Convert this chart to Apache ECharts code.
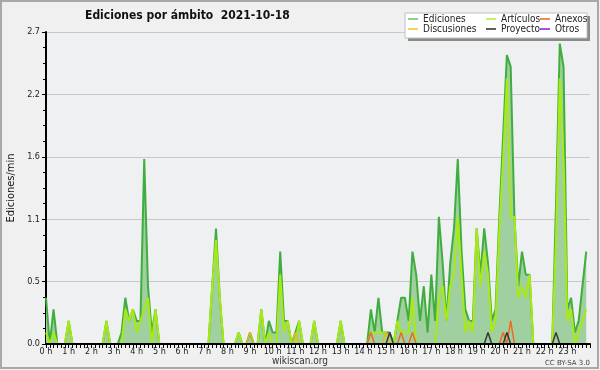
<!DOCTYPE html>
<html><head><meta charset="utf-8">
<script src="https://cdn.jsdelivr.net/npm/echarts@6/dist/echarts.min.js"></script>
<style>html,body{margin:0;padding:0;background:#f0f0f0}#c{width:600px;height:370px}</style>
</head><body><div id="c"></div>
<script>
const hourLabels = ['0 h','1 h','2 h','3 h','4 h','5 h','6 h','7 h','8 h','9 h','10 h','11 h','12 h','13 h','14 h','15 h','16 h','17 h','18 h','19 h','20 h','21 h','22 h','23 h','24 h'];
const seriesNames = ['Ediciones','Artículos','Anexos','Discusiones','Proyecto','Otros'];
// values every 10 minutes (edits per minute)
const ediciones = [
0.4,0,0.3,0,0,0,0.2,0,0,0,
0,0,0,0,0,0,0.2,0,0,0,
0.1,0.4,0.2,0.3,0.2,0.2,1.6,0.5,0.1,0.3,
0,0,0,0,0,0,0,0,0,0,
0,0,0,0,0.5,1.0,0.4,0,0,0,
0,0.1,0,0,0.1,0,0,0.3,0,0.2,
0.1,0.1,0.8,0.2,0.2,0,0.1,0.2,0,0,
0,0.2,0,0,0,0,0,0,0.2,0,
0,0,0,0,0,0,0.3,0.1,0.4,0.1,
0.1,0.1,0,0.2,0.4,0.4,0.2,0.8,0.6,0.2,
0.5,0.1,0.6,0.2,1.1,0.7,0.2,0.7,1.0,1.6,
0.8,0.3,0.2,0.2,1.0,0.6,1.0,0.7,0.2,0.3,
1.1,1.8,2.5,2.4,1.1,0.5,0.8,0.6,0.6,0,
0,0,0,0,0,1.2,2.6,2.4,0.3,0.4,
0.1,0.2,0.5,0.8];
const articulos = [
0.1,0,0.1,0,0,0,0.2,0,0,0,
0,0,0,0,0,0,0.2,0,0,0,
0,0.3,0.2,0.3,0.1,0.2,0.3,0.4,0,0.3,
0,0,0,0,0,0,0,0,0,0,
0,0,0,0,0.5,0.9,0.4,0,0,0,
0,0.1,0,0,0,0,0,0.3,0,0.1,
0,0,0.6,0.1,0.2,0,0,0.2,0,0,
0,0.2,0,0,0,0,0,0,0.2,0,
0,0,0,0,0,0,0.1,0.1,0.1,0.1,
0.1,0,0,0.2,0.1,0.1,0.1,0.4,0,0,
0,0,0,0,0.4,0.5,0.2,0.5,0.6,1.1,
0.6,0.1,0.2,0.1,1.0,0.5,0.8,0.6,0.1,0.2,
1.0,1.6,2.3,1.1,1.1,0.4,0.5,0.4,0.6,0,
0,0,0,0,0,0.9,2.3,1.6,0.2,0.3,
0,0.1,0.2,0.3];
const anexos = [
0,0,0,0,0,0,0,0,0,0, 0,0,0,0,0,0,0,0,0,0, 0,0,0,0,0,0,0,0,0,0,
0,0,0,0,0,0,0,0,0,0, 0,0,0,0,0,0,0,0,0,0, 0,0,0,0,0,0,0,0,0,0,
0,0,0,0,0,0,0,0,0,0, 0,0,0,0,0,0,0,0,0,0, 0,0,0,0,0,0,0.1,0,0,0,
0,0,0,0,0.1,0,0,0.1,0,0, 0,0,0,0,0,0,0,0,0,0, 0,0,0,0,0,0,0,0,0,0,
0,0.1,0,0.2,0,0,0,0,0,0, 0,0,0,0,0,0,0,0,0,0, 0,0,0,0];
const discusiones = [
0,0,0,0,0,0,0,0,0,0, 0,0,0,0,0,0,0,0,0,0, 0,0,0,0,0,0,0,0,0,0,
0,0,0,0,0,0,0,0,0,0, 0,0,0,0,0,0,0,0,0,0, 0,0,0,0,0.1,0,0,0,0,0,
0,0,0,0,0,0,0.1,0,0,0, 0,0,0,0,0,0,0,0,0,0, 0,0,0,0,0,0,0,0,0,0,
0.1,0,0,0,0,0,0,0,0,0, 0,0,0,0,0,0,0,0,0,0, 0,0,0,0,0,0,0,0,0,0,
0,0,0,0,0,0,0,0,0,0, 0,0,0,0,0,0,0,0,0,0, 0,0,0,0];
const proyecto = [
0,0,0,0,0,0,0,0,0,0, 0,0,0,0,0,0,0,0,0,0, 0,0,0,0,0,0,0,0,0,0,
0,0,0,0,0,0,0,0,0,0, 0,0,0,0,0,0,0,0,0,0, 0,0,0,0,0,0,0,0,0,0,
0,0,0,0,0,0,0,0,0,0, 0,0,0,0,0,0,0,0,0,0, 0,0,0,0,0,0,0,0,0,0,
0,0.1,0,0,0,0,0,0,0,0, 0,0,0,0,0,0,0,0,0,0, 0,0,0,0,0,0,0,0.1,0,0,
0,0,0.1,0,0,0,0,0,0,0, 0,0,0,0,0,0.1,0,0,0,0, 0,0,0,0];
const otros = [
0,0,0,0,0,0,0,0,0,0, 0,0,0,0,0,0,0,0,0,0, 0,0,0,0,0,0,0,0,0,0,
0,0,0,0,0,0,0,0,0,0, 0,0,0,0,0,0,0,0,0,0, 0,0,0,0,0,0,0,0,0,0,
0,0,0,0,0,0,0,0,0,0, 0,0,0,0,0,0,0,0,0,0, 0,0,0,0,0,0,0,0,0,0,
0,0,0,0,0,0,0,0,0,0, 0,0,0,0,0,0,0,0,0,0, 0,0,0,0,0,0,0,0,0,0,
0,0,0,0,0,0,0,0,0,0, 0,0,0,0,0,0,0,0,0,0, 0,0,0,0];

const F = '"DejaVu Sans Condensed", "DejaVu Sans"';
const pts = arr => arr.map((v, i) => [i, v]);
const lineColors = ['#3fae3f','#a8ea12','#ee6a22','#e6b81e','#3a3a3a','#9a3cf0'];
const legendColors = ['#8fd08f','#c6ef6a','#f08a5a','#f2d35a','#606060','#a050f0'];
const allData = [ediciones, articulos, anexos, discusiones, proyecto, otros];

const series = seriesNames.map((n, k) => {
  const s = {
    name: n, type: 'line', data: pts(allData[k]), symbol: 'none', showSymbol: false,
    lineStyle: {color: lineColors[k], width: k < 2 ? 2 : 1.5},
    itemStyle: {color: lineColors[k]}, z: 2 + k, silent: true
  };
  if (k === 0) s.areaStyle = {color: '#a0cfa0', opacity: 1};
  return s;
});

function leg(left, names) {
  return {
    left: left, top: 14, orient: 'vertical', itemGap: 0, itemWidth: 10, itemHeight: 2,
    icon: 'rect', padding: 0, selectedMode: false, z: 12,
    textStyle: {fontFamily: F, fontSize: 10, color: '#222', lineHeight: 10},
    data: names.map(n => ({name: n, itemStyle: {color: legendColors[seriesNames.indexOf(n)]}}))
  };
}

const chart = echarts.init(document.getElementById('c'), null, {renderer: 'canvas'});
chart.setOption({
  backgroundColor: '#f0f0f0',
  animation: false,
  title: {text: 'Ediciones por ámbito  2021-10-18', left: 85, top: 10, padding: 0,
    textStyle: {fontFamily: F, fontSize: 12, fontWeight: 'bold', color: '#111'}},
  grid: {left: 46, right: 10, top: 32, bottom: 26, show: true, backgroundColor: '#eef0f2', borderWidth: 0,
    containLabel: false, outerBoundsMode: 'none'},
  xAxis: {type: 'value', min: 0, max: 144, interval: 6, z: 20,
    axisLine: {lineStyle: {color: '#000', width: 2}},
    axisTick: {length: 4, lineStyle: {color: '#000'}},
    minorTick: {show: true, splitNumber: 6, length: 4, lineStyle: {color: '#000'}},
    splitLine: {show: false},
    axisLabel: {formatter: v => hourLabels[Math.round(v / 6)], showMaxLabel: false, hideOverlap: false,
      fontFamily: F, fontSize: 9, color: '#222', margin: 3}},
  yAxis: {type: 'value', min: 0, max: 2.7, interval: 0.54,
    name: 'Ediciones/min', nameLocation: 'middle', nameGap: 29,
    nameTextStyle: {fontFamily: F, fontSize: 11, color: '#111'},
    axisLine: {show: true, lineStyle: {color: '#000', width: 2}},
    axisTick: {show: true, length: 4, lineStyle: {color: '#000'}},
    minorTick: {show: true, splitNumber: 4, length: 3, lineStyle: {color: '#000'}},
    splitLine: {lineStyle: {color: '#c8c8c8'}},
    axisLabel: {formatter: v => v.toFixed(1), fontFamily: F, fontSize: 9, color: '#222', margin: 6}},
  legend: [leg(408, ['Ediciones','Discusiones']), leg(486, ['Artículos','Proyecto']), leg(540, ['Anexos','Otros'])],
  graphic: [
    {type: 'rect', z: 1, silent: true, shape: {x: 1, y: 1, width: 597, height: 367},
      style: {fill: 'none', stroke: '#a8a8a8', lineWidth: 2}},
    {type: 'rect', z: 10, silent: true, shape: {x: 408, y: 16, width: 182, height: 25}, style: {fill: '#8a8a8a'}},
    {type: 'rect', z: 11, silent: true, shape: {x: 405, y: 13, width: 182, height: 25}, style: {fill: '#fff', stroke: '#c0c0c0', lineWidth: 1}},
    {type: 'text', z: 11, silent: true, x: 300, y: 361, style: {text: 'wikiscan.org', font: '10px "DejaVu Sans Condensed", "DejaVu Sans"', fill: '#333', align: 'center', verticalAlign: 'middle'}},
    {type: 'text', z: 11, silent: true, x: 590, y: 363, style: {text: 'CC BY-SA 3.0', font: '7px "DejaVu Sans"', fill: '#444', align: 'right', verticalAlign: 'middle'}}
  ],
  series: series
});
</script></body></html>
